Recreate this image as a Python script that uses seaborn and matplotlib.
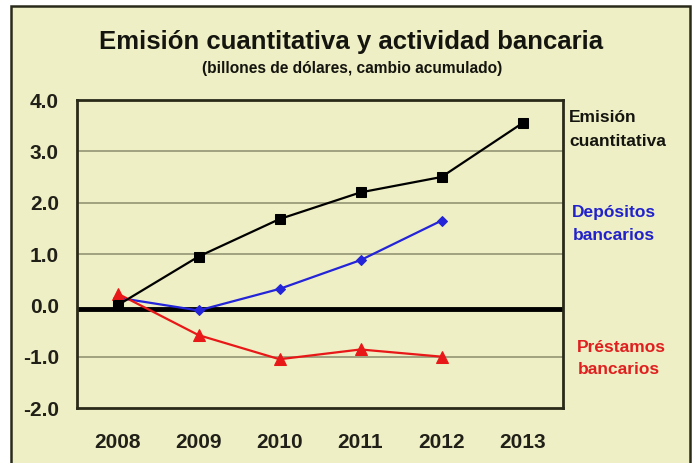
import numpy as np
import pandas as pd
import matplotlib
matplotlib.use('Agg')
import matplotlib.pyplot as plt
import seaborn as sns
from matplotlib.patches import Rectangle

# datos (billones de dólares, cambio acumulado)
anios = [2008, 2009, 2010, 2011, 2012, 2013]
emision = [0.0, 0.95, 1.68, 2.2, 2.5, 3.55]
anios_banca = [2008, 2009, 2010, 2011, 2012]
depositos = [0.15, -0.1, 0.32, 0.88, 1.65]
prestamos = [0.23, -0.58, -1.05, -0.86, -1.0]
yticks = [-2.0, -1.0, 0.0, 1.0, 2.0, 3.0, 4.0]

sns.set_style('white')
plt.rcParams['font.family'] = ['Liberation Sans', 'DejaVu Sans']
plt.rcParams['font.weight'] = 'bold'

fondo = '#EEEFC4'
fig = plt.figure(figsize=(6.96, 4.63), dpi=100, facecolor='white')

# marco exterior
fig.patches.append(Rectangle((11/696, -0.05), (690-11)/696, 1-6/463 + 0.05,
                             transform=fig.transFigure, facecolor=fondo,
                             edgecolor='#2a2a1a', lw=1.8, zorder=-1))

ax = fig.add_axes([77/696, 1-408/463, (563-77)/696, (408-100)/463])
ax.set_facecolor(fondo)
ax.set_zorder(1)

df_e = pd.DataFrame({'anio': anios, 'valor': emision})
df_d = pd.DataFrame({'anio': anios_banca, 'valor': depositos})
df_p = pd.DataFrame({'anio': anios_banca, 'valor': prestamos})

for y in yticks:
    if y not in (0.0, -2.0, 4.0):
        ax.axhline(y, color='#8c8c6c', lw=1.1, zorder=1)
ax.axhline(-0.08, color='black', lw=3.5, zorder=2)

sns.lineplot(data=df_e, x='anio', y='valor', ax=ax, color='black', lw=1.6,
             marker='s', markersize=7, markeredgecolor='black', zorder=4)
sns.lineplot(data=df_d, x='anio', y='valor', ax=ax, color='#2424d8', lw=1.6,
             marker='D', markersize=5, markeredgecolor='#2424d8', zorder=3)
sns.lineplot(data=df_p, x='anio', y='valor', ax=ax, color='#e81818', lw=1.6,
             marker='^', markersize=8, markeredgecolor='#e81818', zorder=3)

ax.set_xlim(2007.5, 2013.5)
ax.set_ylim(-2, 4)
ax.set_xticks(anios)
ax.set_xticklabels([str(a) for a in anios], fontsize=15, fontweight='bold', color='#202018')
ax.set_yticks(yticks)
ax.set_yticklabels([f'{v:.1f}' for v in yticks], fontsize=15, fontweight='bold', color='#202018')
ax.tick_params(axis='x', length=0, pad=18)
ax.tick_params(axis='y', length=0, pad=13)
ax.set_xlabel('')
ax.set_ylabel('')
for s in ax.spines.values():
    s.set_color('#2a2a1a')
    s.set_linewidth(2)

fig.text(351/696, 1-42/463, 'Emisión cuantitativa y actividad bancaria',
         ha='center', va='center', fontsize=18.5, fontweight='bold', color='#151510')
fig.text(352/696, 1-68/463, '(billones de dólares, cambio acumulado)',
         ha='center', va='center', fontsize=11.2, fontweight='bold', color='#151510')

lab = dict(ha='left', va='center', fontsize=12.5, fontweight='bold')
fig.text(569/696, 1-118/463, 'Emisión', color='#151510', **lab)
fig.text(569/696, 1-141/463, 'cuantitativa', color='#151510', **lab)
fig.text(572/696, 1-212/463, 'Depósitos', color='#2222cc', **lab)
fig.text(573/696, 1-235/463, 'bancarios', color='#2222cc', **lab)
fig.text(577/696, 1-348/463, 'Préstamos', color='#e02020', **lab)
fig.text(578/696, 1-370/463, 'bancarios', color='#e02020', **lab)

fig.savefig('out.png', dpi=100, facecolor=fig.get_facecolor())
